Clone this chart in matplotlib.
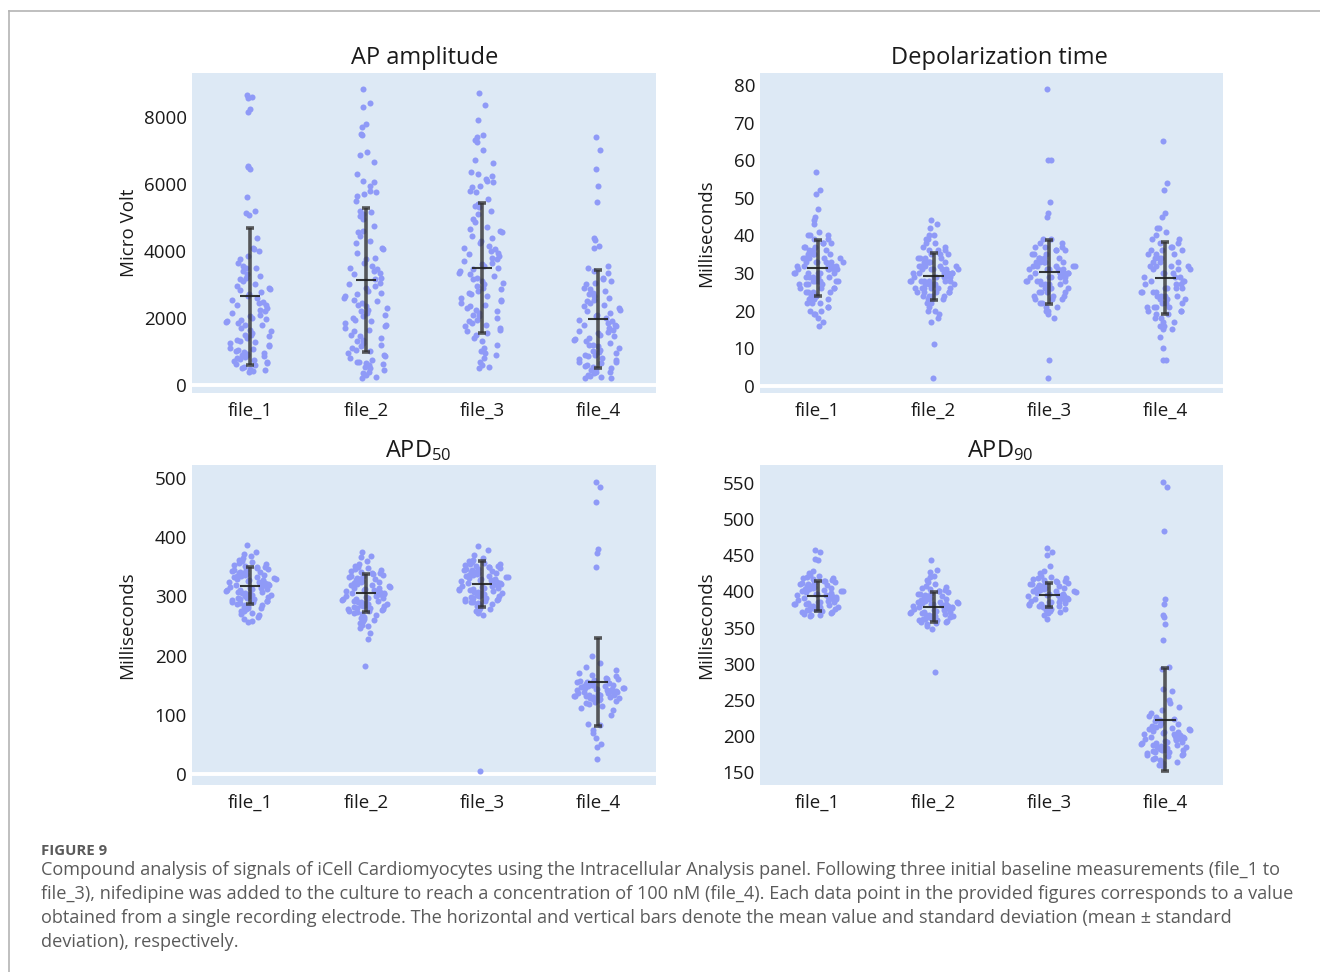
import numpy as np
import matplotlib
matplotlib.use("Agg")
import matplotlib.pyplot as plt
from matplotlib.lines import Line2D

plt.rcParams['font.family'] = ['Open Sans', 'DejaVu Sans']
plt.rcParams['mathtext.fontset'] = 'custom'
plt.rcParams['mathtext.rm'] = 'Open Sans'
plt.rcParams['mathtext.default'] = 'regular'

files = ["file_1", "file_2", "file_3", "file_4"]

# AP amplitude (Micro Volt)
ap_file_1 = [8650, 8600, 8550, 8250, 8150, 6500, 6520, 6450, 5600, 5180, 5120, 5070, 4380, 4100, 4050,
             4010, 3850, 3750, 3650, 3550, 3500, 3480, 3400, 3300, 3250, 3200, 3150, 3100, 3000, 2950,
             2900, 2870, 2820, 2780, 2700, 2650, 2600, 2550, 2480, 2450, 2400, 2380, 2300, 2250, 2200,
             2150, 2100, 2050, 2000, 1980, 1950, 1900, 1870, 1850, 1800, 1780, 1700, 1650, 1600, 1550,
             1500, 1480, 1450, 1400, 1350, 1300, 1280, 1250, 1200, 1150, 1100, 1080, 1050, 1000, 980,
             950, 920, 900, 880, 850, 820, 800, 780, 750, 720, 700, 650, 620, 600, 550, 500, 480, 450,
             420, 400]
ap_file_2 = [8820, 8400, 8300, 7800, 7700, 7500, 7450, 6950, 6850, 6650, 6300, 6100, 6050, 5950, 5800,
             5750, 5700, 5650, 5500, 5200, 5150, 5100, 5050, 4950, 4750, 4600, 4550, 4450, 4300, 4250,
             4100, 4050, 3950, 3800, 3750, 3650, 3550, 3500, 3450, 3400, 3350, 3300, 3200, 3150, 3050,
             3000, 2950, 2900, 2800, 2750, 2700, 2650, 2600, 2550, 2500, 2450, 2400, 2350, 2300, 2250,
             2200, 2150, 2100, 2050, 2000, 1950, 1900, 1850, 1800, 1750, 1700, 1650, 1600, 1500, 1450,
             1400, 1350, 1300, 1250, 1200, 1150, 1100, 1050, 1000, 950, 900, 850, 800, 750, 700, 680,
             650, 620, 600, 550, 500, 450, 400, 350, 300, 250, 200]
ap_file_3 = [8700, 8350, 7900, 7450, 7400, 7300, 7250, 7000, 6720, 6620, 6350, 6300, 6250, 6150, 6100,
             6050, 5950, 5900, 5800, 5750, 5550, 5400, 5350, 5300, 5200, 5100, 4950, 4850, 4700, 4650,
             4600, 4550, 4450, 4400, 4300, 4250, 4150, 4100, 4050, 4000, 3950, 3900, 3850, 3800, 3750,
             3700, 3650, 3600, 3550, 3500, 3450, 3400, 3350, 3300, 3250, 3200, 3150, 3100, 3050, 3000,
             2950, 2900, 2850, 2800, 2750, 2700, 2650, 2600, 2550, 2500, 2450, 2400, 2350, 2300, 2250,
             2200, 2150, 2100, 2050, 2000, 1950, 1900, 1850, 1800, 1750, 1700, 1650, 1600, 1550, 1500,
             1400, 1300, 1200, 1100, 1000, 950, 900, 800, 700, 600, 550, 500]
ap_file_4 = [7400, 7000, 6450, 5950, 5450, 4380, 4330, 4150, 4100, 3550, 3500, 3400, 3350, 3200, 3150,
             3100, 3050, 3000, 2900, 2850, 2800, 2750, 2700, 2650, 2600, 2550, 2500, 2450, 2400, 2350,
             2300, 2250, 2200, 2150, 2100, 2050, 2000, 1950, 1900, 1850, 1800, 1780, 1750, 1700, 1650,
             1600, 1580, 1550, 1500, 1450, 1400, 1380, 1350, 1300, 1250, 1200, 1180, 1150, 1100, 1050,
             1000, 980, 950, 900, 880, 850, 800, 780, 750, 700, 680, 650, 600, 580, 550, 500, 480, 450,
             400, 380, 350, 300, 280, 250, 220, 200]
ap_mean = [2640, 3135, 3495, 1970]
ap_sd = [2045, 2150, 1945, 1465]

# Depolarization time (ms)
dep_file_1 = [57, 52, 51, 47, 45, 44, 43, 41, 40, 40, 40, 39, 39, 38, 38, 38, 37, 37, 37, 36, 36, 36,
              35, 35, 35, 35, 34, 34, 34, 34, 34, 33, 33, 33, 33, 33, 33, 32, 32, 32, 32, 32, 31, 31,
              31, 31, 31, 30, 30, 30, 30, 30, 30, 29, 29, 29, 29, 29, 28, 28, 28, 28, 28, 28, 27, 27,
              27, 27, 26, 26, 26, 26, 25, 25, 25, 25, 24, 24, 24, 23, 23, 23, 22, 22, 22, 21, 21, 20,
              20, 19, 19, 18, 17, 16]
dep_file_2 = [44, 43, 42, 40, 40, 39, 39, 38, 38, 37, 37, 36, 36, 36, 35, 35, 35, 34, 34, 34, 34, 33,
              33, 33, 33, 33, 32, 32, 32, 32, 32, 31, 31, 31, 31, 31, 31, 30, 30, 30, 30, 30, 30, 29,
              29, 29, 29, 29, 29, 28, 28, 28, 28, 28, 28, 28, 27, 27, 27, 27, 27, 27, 26, 26, 26, 26,
              26, 26, 25, 25, 25, 25, 25, 24, 24, 24, 24, 23, 23, 23, 22, 22, 21, 20, 20, 19, 18, 17,
              11, 2]
dep_file_3 = [79, 60, 60, 49, 46, 45, 39, 39, 38, 38, 37, 37, 37, 36, 36, 36, 35, 35, 35, 34, 34, 34,
              34, 33, 33, 33, 33, 33, 32, 32, 32, 32, 32, 31, 31, 31, 31, 31, 30, 30, 30, 30, 30, 30,
              29, 29, 29, 29, 29, 28, 28, 28, 28, 28, 27, 27, 27, 27, 26, 26, 26, 26, 25, 25, 25, 25,
              24, 24, 24, 23, 23, 23, 22, 22, 21, 21, 20, 20, 19, 18, 7, 2]
dep_file_4 = [65, 54, 52, 46, 45, 42, 42, 41, 40, 39, 39, 38, 38, 37, 37, 36, 36, 36, 35, 35, 35, 34,
              34, 34, 33, 33, 33, 32, 32, 32, 32, 31, 31, 31, 30, 30, 30, 29, 29, 29, 28, 28, 28, 27,
              27, 27, 26, 26, 26, 26, 25, 25, 25, 25, 24, 24, 24, 24, 23, 23, 23, 22, 22, 22, 21, 21,
              21, 21, 20, 20, 20, 19, 19, 18, 18, 17, 17, 16, 16, 15, 15, 13, 10, 7, 7]
dep_mean = [31.3, 29.2, 30.2, 28.6]
dep_sd = [7.45, 6.25, 8.55, 9.6]

# APD50 (ms)
apd50_file_1 = [387, 375, 372, 368, 365, 362, 360, 358, 356, 355, 353, 352, 350, 349, 348, 346, 345,
                344, 343, 342, 341, 340, 339, 338, 337, 336, 335, 334, 333, 332, 331, 330, 329, 328,
                327, 326, 325, 324, 323, 322, 321, 320, 319, 318, 317, 316, 315, 314, 313, 312, 311,
                310, 309, 308, 307, 306, 305, 304, 303, 302, 301, 300, 299, 298, 297, 296, 295, 294,
                293, 292, 291, 290, 289, 288, 286, 285, 284, 282, 281, 280, 278, 276, 275, 272, 270,
                268, 265, 262, 259, 257]
apd50_file_2 = [375, 368, 366, 360, 355, 352, 350, 348, 346, 345, 343, 342, 340, 339, 338, 336, 335,
                334, 332, 331, 330, 329, 328, 326, 325, 324, 322, 321, 320, 319, 318, 316, 315, 314,
                312, 311, 310, 309, 308, 307, 306, 305, 304, 303, 302, 301, 300, 299, 298, 297, 296,
                295, 294, 293, 292, 291, 290, 289, 288, 287, 286, 285, 284, 283, 282, 281, 280, 279,
                278, 277, 276, 275, 273, 272, 270, 268, 266, 264, 262, 260, 258, 255, 252, 250, 246,
                238, 228, 183]
apd50_file_3 = [386, 378, 370, 365, 362, 360, 358, 357, 355, 354, 353, 352, 351, 350, 349, 348, 347,
                346, 345, 344, 343, 342, 341, 340, 339, 338, 337, 336, 335, 334, 333, 332, 331, 330,
                329, 328, 327, 326, 325, 324, 323, 322, 321, 320, 319, 318, 317, 316, 315, 314, 313,
                312, 311, 310, 309, 308, 307, 306, 305, 304, 303, 302, 301, 300, 299, 298, 297, 296,
                295, 294, 293, 292, 291, 290, 289, 287, 285, 283, 281, 279, 277, 275, 272, 268, 5]
apd50_file_4 = [494, 485, 459, 380, 373, 349, 199, 187, 180, 176, 170, 167, 165, 162, 161, 160, 158,
                157, 156, 155, 154, 153, 152, 151, 150, 150, 149, 148, 148, 147, 146, 146, 145, 144,
                144, 143, 142, 142, 141, 140, 140, 139, 138, 138, 137, 136, 136, 135, 134, 134, 133,
                132, 132, 131, 130, 130, 129, 128, 128, 127, 126, 125, 124, 122, 120, 118, 115, 112,
                108, 100, 85, 82, 74, 70, 60, 50, 46, 26]
apd50_mean = [318, 306, 321, 155]
apd50_sd = [31, 32, 38.5, 74.5]

# APD90 (ms)
apd90_file_1 = [457, 454, 445, 443, 428, 425, 423, 421, 420, 419, 418, 417, 416, 415, 414, 413, 412,
                411, 410, 410, 409, 408, 407, 406, 405, 405, 404, 403, 402, 401, 400, 400, 399, 398,
                397, 396, 395, 395, 394, 393, 392, 391, 390, 390, 389, 388, 387, 386, 385, 385, 384,
                383, 382, 382, 381, 380, 380, 379, 378, 378, 377, 376, 376, 375, 374, 374, 373, 372,
                371, 370, 369, 368, 367, 366]
apd90_file_2 = [443, 430, 427, 422, 420, 416, 413, 410, 408, 406, 405, 404, 402, 401, 400, 399, 398,
                397, 396, 395, 394, 393, 392, 391, 390, 389, 388, 387, 386, 386, 385, 384, 384, 383,
                382, 382, 381, 380, 380, 379, 378, 378, 377, 376, 376, 375, 374, 374, 373, 372, 372,
                371, 370, 370, 369, 368, 368, 367, 366, 366, 365, 364, 364, 363, 362, 362, 361, 360,
                359, 358, 357, 356, 355, 352, 348, 288]
apd90_file_3 = [460, 455, 450, 435, 428, 425, 422, 420, 419, 418, 417, 416, 415, 414, 413, 412, 411,
                410, 410, 409, 408, 407, 406, 405, 405, 404, 403, 402, 401, 400, 400, 399, 398, 397,
                396, 395, 395, 394, 393, 392, 391, 390, 390, 389, 388, 387, 386, 385, 385, 384, 383,
                382, 381, 380, 380, 379, 378, 377, 376, 375, 374, 373, 372, 370, 368, 362]
apd90_file_4 = [552, 545, 483, 390, 383, 367, 365, 355, 333, 295, 293, 265, 262, 250, 246, 240, 236,
                232, 228, 226, 224, 222, 220, 218, 216, 215, 214, 212, 211, 210, 209, 208, 207, 206,
                205, 204, 203, 202, 201, 200, 199, 198, 197, 196, 195, 195, 194, 193, 192, 191, 190,
                190, 189, 188, 187, 186, 185, 185, 184, 183, 182, 181, 180, 180, 179, 178, 177, 176,
                175, 174, 173, 172, 170, 168, 166, 164, 162, 160, 158]
apd90_mean = [393.5, 378.5, 395.5, 222.5]
apd90_sd = [20.5, 20.5, 16.5, 71]

caption_head = "FIGURE 9"
caption_lines = [
    "Compound analysis of signals of iCell Cardiomyocytes using the Intracellular Analysis panel. Following three initial baseline measurements (file_1 to",
    "file_3), nifedipine was added to the culture to reach a concentration of 100 nM (file_4). Each data point in the provided figures corresponds to a value",
    "obtained from a single recording electrode. The horizontal and vertical bars denote the mean value and standard deviation (mean \u00b1 standard",
    "deviation), respectively.",
]

BG = "#dde9f5"
DOT = "#8f9af7"
BAR = (0.2, 0.2, 0.2, 0.8)
TXT = "#1a1a1a"


def jitter(values, half_width=0.23):
    # density scaled spread (plotly style points), fixed quadratic sequence for the order
    v = np.asarray(values, dtype=float)
    bw = 1.06 * v.std() * len(v) ** (-0.2)
    dens = np.exp(-0.5 * ((v[:, None] - v[None, :]) / bw) ** 2).sum(axis=1)
    dens = dens / dens.max()
    i = np.arange(len(v))
    u = ((i * i * 0.6180339887 + i * 0.3247179572) % 1.0) * 2 - 1
    return half_width * u * np.maximum(dens, 0.08)


def panel(ax, groups, means, sds, title, ylabel, ylim, yticks, title_x, label_x, title_y):
    ax.set_facecolor(BG)
    for i, vals in enumerate(groups):
        ax.scatter(i + jitter(vals), vals, s=19, color=DOT, linewidths=0, zorder=2)

    xs = np.arange(len(groups))
    ax.errorbar(xs, means, yerr=sds, fmt="none", ecolor=BAR, elinewidth=2.6,
                capsize=2.9, capthick=2.6, zorder=3)
    ax.hlines(means, xs - 0.09, xs + 0.09, color="#222222", lw=1.5, alpha=0.9, zorder=4)

    if ylim[0] < 0:
        ax.axhline(0, color="white", lw=2.8, zorder=1)

    ax.set_xlim(-0.5, len(groups) - 0.5)
    ax.set_ylim(*ylim)
    ax.set_yticks(yticks)
    ax.set_xticks(xs)
    ax.set_xticklabels(files)
    for s in ax.spines.values():
        s.set_visible(False)
    ax.tick_params(axis="both", length=0, labelsize=13.5, labelcolor=TXT)
    ax.tick_params(axis="y", pad=3.6)
    ax.tick_params(axis="x", pad=6.5)
    ax.set_ylabel(ylabel, fontsize=13.5, color=TXT)
    ax.yaxis.set_label_coords(label_x, 0.5)
    ax.text(title_x, title_y, title, transform=ax.transAxes, ha="center", va="center",
            fontsize=17, color=TXT)


fig = plt.figure(figsize=(13.2, 9.72), dpi=100)

W, H = 1320, 972
def box(l, t, r, b):
    return [l / W, 1 - b / H, (r - l) / W, (b - t) / H]

ax1 = fig.add_axes(box(192, 73, 656, 393))
ax2 = fig.add_axes(box(760, 73, 1223, 393))
ax3 = fig.add_axes(box(192, 465, 656, 785))
ax4 = fig.add_axes(box(760, 465, 1223, 785))

panel(ax1, [ap_file_1, ap_file_2, ap_file_3, ap_file_4], ap_mean, ap_sd,
      "AP amplitude", "Micro Volt", (-240, 9310), [0, 2000, 4000, 6000, 8000],
      0.502, -0.117, 1.048)
panel(ax2, [dep_file_1, dep_file_2, dep_file_3, dep_file_4], dep_mean, dep_sd,
      "Depolarization time", "Milliseconds", (-1.9, 83.2), list(range(0, 81, 10)),
      0.518, -0.098, 1.048)
panel(ax3, [apd50_file_1, apd50_file_2, apd50_file_3, apd50_file_4], apd50_mean, apd50_sd,
      "APD$_{50}$", "Milliseconds", (-18.6, 522), list(range(0, 501, 100)),
      0.488, -0.12, 1.044)
panel(ax4, [apd90_file_1, apd90_file_2, apd90_file_3, apd90_file_4], apd90_mean, apd90_sd,
      "APD$_{90}$", "Milliseconds", (132, 575), list(range(150, 551, 50)),
      0.52, -0.098, 1.044)

# thin frame round the figure
fig.add_artist(Line2D([9 / W, 1.0], [1 - 11 / H, 1 - 11 / H], color="#b4b4b4", lw=1.2))
fig.add_artist(Line2D([9 / W, 9 / W], [0.0, 1 - 11 / H], color="#b4b4b4", lw=1.2))

fig.text(41 / W, 1 - 851 / H, caption_head, fontsize=10.8, fontweight="bold",
         color="#5a5a5a", va="center", ha="left")
for k, line in enumerate(caption_lines):
    fig.text(41 / W, 1 - (870 + 24 * k) / H, line, fontsize=13.1, color="#5a5a5a",
             va="center", ha="left")

fig.savefig("out.png", dpi=100, facecolor="white")
